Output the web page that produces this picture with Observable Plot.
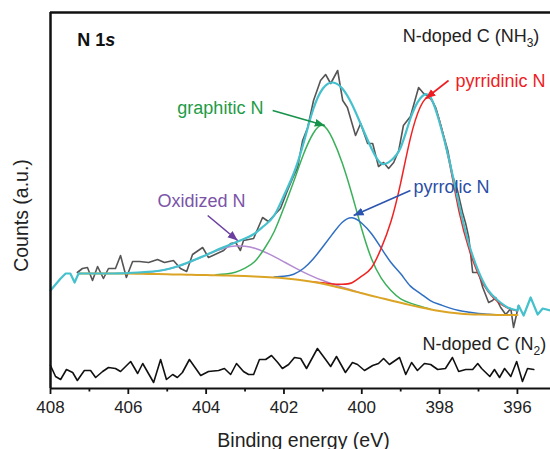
<!DOCTYPE html>
<html><head><meta charset="utf-8">
<script src="https://cdn.jsdelivr.net/npm/d3@7"></script>
<script src="https://cdn.jsdelivr.net/npm/@observablehq/plot@0.6"></script>
<style>body{margin:0;background:#fff}</style>
</head><body><div id="chart"></div>
<script>
// ---------- data (binding energy in eV, counts in arbitrary units) ----------
const majorTicks = [408, 406, 404, 402, 400, 398, 396];
const minorTicks = [407, 405, 403, 401, 399, 397];

// common energy grid for fitted curves
const gridE = [407.25, 407, 406.75, 406.5, 406.25, 406, 405.75, 405.5, 405.25, 405, 404.75, 404.5, 404.25, 404, 403.75, 403.5, 403.25, 403, 402.75, 402.5, 402.25, 402, 401.75, 401.5, 401.25, 401, 400.75, 400.5, 400.25, 400, 399.75, 399.5, 399.25, 399, 398.75, 398.5, 398.25, 398, 397.75, 397.5, 397.25, 397, 396.75, 396.5, 396.25, 396];
const baselineC = [115, 115, 115, 115, 115, 115, 114.8, 114.6, 114.4, 114.2, 114, 113.8, 113.6, 113.4, 113.2, 113, 112.7, 112.4, 112, 111.5, 111, 110.3, 109.3, 108, 106.5, 104.7, 102.6, 100.3, 97.8, 95.3, 92.8, 90.4, 88, 85.7, 83.4, 81.2, 79.2, 77.5, 76.1, 75, 74.3, 73.9, 73.7, 73.6, 73.5, 73.5];
const oxidizedC = [null, null, null, null, null, 115.2, 115.7, 116.2, 117.4, 119.2, 121.7, 125.1, 129.1, 133.4, 137.5, 140.7, 142.4, 142.2, 140.2, 136.5, 131.9, 126.7, 121.4, 116.4, 111.9, 108, 104.5, 101.3, 98.3, 95.3, null, null, null, null, null, null, null, null, null, null, null, null, null, null, null, null];
const graphiticC = [null, null, null, null, null, null, null, null, null, null, null, null, null, null, 113.7, 114.5, 116.2, 120.4, 127, 140, 157, 181, 207, 234, 255, 263, 249.6, 225.3, 193.8, 159.3, 129.8, 110.4, 98, 89.7, 85.4, 82.2, 79.5, null, null, null, null, null, null, null, null, null];
const pyrrolicC = [null, null, null, null, null, null, null, null, null, null, null, null, null, null, null, null, null, null, null, null, 111.5, 112.3, 114.3, 120, 129.5, 141.7, 154.6, 166.3, 170.8, 165.3, 154.8, 140.4, 126, 114.7, 102.4, 95.2, 88.2, 84, 80.6, 78, 76.3, 74.9, 74.2, 73.6, null, null];
const pyridinicC = [null, null, null, null, null, null, null, null, null, null, null, null, null, null, null, null, null, null, null, null, null, null, null, null, 106.5, 105.7, 104.6, 104.3, 105.8, 112.3, 120.8, 140.4, 167, 205.7, 250.4, 281.2, 290.2, 267.5, 226.1, 177, 140.3, 113.9, 96.7, 86.6, 80.5, 77.5];
const envelopeC = [115, 115, 115, 115, 115.2, 115.5, 116, 116.6, 117.5, 119.3, 122, 125.5, 129.5, 133.5, 138, 142, 146, 150, 155, 163, 173, 193, 215, 245, 279, 300, 306, 300, 284, 262, 240, 225, 228, 241, 270, 290, 292, 266, 228, 184, 145, 117, 98, 88, 81, 78];

// envelope edges (noisy, follow raw counts)
const envLeftE = [408, 407.74, 407.61, 407.49, 407.38, 407.28, 407.25];
const envLeftC = [98, 110, 115, 115, 106, 115, 115];
const envRightE = [396, 395.97, 395.84, 395.66, 395.48, 395.35, 395.15];
const envRightC = [78, 83, 73, 91, 74, 80, 78];

// raw N 1s spectrum, N-doped C (NH3)
const nh3E = [407.31, 407.18, 407.05, 406.92, 406.79, 406.64, 406.51, 406.33, 406.20, 406.05, 405.89, 405.71, 405.48, 405.25, 405.07, 404.84, 404.66, 404.50, 404.35, 404.09, 403.94, 403.55, 403.37, 403.24, 403.12, 403.04, 402.78, 402.55, 402.40, 402.09, 401.91, 401.78, 401.65, 401.52, 401.39, 401.24, 401.06, 400.93, 400.80, 400.62, 400.49, 400.37, 400.16, 400.03, 399.85, 399.72, 399.57, 399.44, 399.31, 399.18, 399.05, 398.93, 398.75, 398.54, 398.41, 398.23, 398.10, 397.97, 397.79, 397.67, 397.54, 397.41, 397.33, 397.25, 397.15, 397.00, 396.89, 396.74, 396.64, 396.56, 396.43, 396.30, 396.17, 396.10, 395.97];
const nh3C = [116, 120, 121, 108, 122, 110, 120, 120, 133, 111, 127, 127, 126, 129, 126, 128, 120, 117, 134, 141, 131, 138, 145, 146, 138, 148, 150, 171, 167, 180, 198, 210, 221, 248, 261, 288, 308, 314, 305, 318, 288, 281, 253, 265, 245, 245, 222, 226, 220, 226, 238, 263, 272, 301, 295, 291, 281, 263, 238, 213, 198, 176, 165, 151, 116, 116, 101, 86, 88, 91, 81, 74, 80, 61, 83];

// raw spectrum, N-doped C (N2)
const n2E = [408.00, 407.87, 407.74, 407.59, 407.43, 407.31, 407.13, 406.97, 406.84, 406.66, 406.51, 406.33, 406.20, 405.94, 405.76, 405.63, 405.35, 405.17, 405.02, 404.86, 404.74, 404.61, 404.43, 404.14, 403.94, 403.68, 403.53, 403.37, 403.22, 403.04, 402.91, 402.78, 402.63, 402.47, 402.32, 402.16, 402.04, 401.88, 401.73, 401.57, 401.42, 401.14, 400.93, 400.80, 400.65, 400.42, 400.24, 400.11, 399.93, 399.72, 399.57, 399.44, 399.29, 399.03, 398.87, 398.72, 398.57, 398.39, 398.23, 398.05, 397.85, 397.67, 397.51, 397.33, 397.15, 397.02, 396.92, 396.71, 396.59, 396.46, 396.33, 396.17, 396.02, 395.87, 395.74, 395.58];
const n2C = [23, 12, 9, 19, 16, 8, 18, 18, 11, 17, 21, 20, 17, 27, 15, 25, 6, 29, 9, 14, 11, 16, 29, 13, 17, 18, 20, 14, 25, 17, 14, 14, 29, 29, 33, 26, 20, 24, 31, 30, 20, 40, 29, 22, 32, 16, 26, 24, 18, 23, 25, 30, 24, 31, 14, 26, 18, 25, 24, 19, 20, 31, 17, 19, 19, 25, 20, 12, 19, 11, 20, 12, 27, 7, 20, 19];

// annotations
const labels = [
  {text: "graphitic N", e: 404.74, c: 275, color: "#1e9b46", e1: 402.29, c1: 278, e2: 400.95, c2: 263, arrow: "#16924a"},
  {text: "pyrridinic N", e: 397.59, c: 302, color: "#ee1d24", e1: 397.77, c1: 308, e2: 398.36, c2: 290, arrow: "#ee1d24"},
  {text: "pyrrolic N", e: 398.67, c: 196, color: "#2b4fa6", e1: 398.75, c1: 198, e2: 400.21, c2: 173, arrow: "#2b55b0"},
  {text: "Oxidized N", e: 405.25, c: 182, color: "#7b54a8", e1: 403.96, c1: 173, e2: 403.19, c2: 148, arrow: "#6b3fa0"}
];

// ---------- helpers ----------
const rows = (E, C) => E.map((e, i) => ({e, c: C[i]})).filter(d => d.c != null);
const FONT = "'Liberation Sans', Arial, Helvetica, sans-serif";

function headMarker(color, context) {
  const ns = "http://www.w3.org/2000/svg";
  const doc = (context && context.document) || document;
  const m = doc.createElementNS(ns, "marker");
  m.setAttribute("viewBox", "-10 -5 10 10");
  m.setAttribute("markerWidth", 10);
  m.setAttribute("markerHeight", 10);
  m.setAttribute("markerUnits", "userSpaceOnUse");
  m.setAttribute("orient", "auto");
  m.setAttribute("refX", 0);
  m.setAttribute("refY", 0);
  const p = doc.createElementNS(ns, "path");
  p.setAttribute("d", "M-10,-4L0,0L-10,4Z");
  p.setAttribute("fill", color);
  p.setAttribute("stroke", "none");
  m.appendChild(p);
  return m;
}

function build(useMarker) {
  const arrowMarks = useMarker
    ? [Plot.link(labels, {x1: "e1", y1: "c1", x2: "e2", y2: "c2", stroke: "arrow", strokeWidth: 1.6, markerEnd: headMarker})]
    : [Plot.arrow(labels, {x1: "e1", y1: "c1", x2: "e2", y2: "c2", stroke: "arrow", strokeWidth: 1.6, headLength: 8})];
  return Plot.plot({
    width: 550, height: 449,
    marginLeft: 50, marginRight: 0, marginTop: 12, marginBottom: 61,
    style: {fontFamily: FONT, background: "#fff", overflow: "hidden"},
    x: {domain: [408, 395.15], axis: null},
    y: {domain: [0, 376], axis: null},
    color: {type: "identity"},
    marks: [
      Plot.axisX({ticks: minorTicks, tickSize: 3.5, tickFormat: () => "", label: null, strokeWidth: 1.8, stroke: "#111"}),
      Plot.axisX({ticks: majorTicks, tickSize: 6, tickPadding: 6, fontSize: 17, tickFormat: d => String(d), label: null, strokeWidth: 1.8, stroke: "#111", fill: "#222"}),
      Plot.line(rows(n2E, n2C), {x: "e", y: "c", stroke: "#111", strokeWidth: 1.6}),
      Plot.line(rows(nh3E, nh3C), {x: "e", y: "c", stroke: "#555", strokeWidth: 1.6}),
      Plot.line(rows(gridE, oxidizedC), {x: "e", y: "c", stroke: "#b48ad2", strokeWidth: 1.5, curve: "natural"}),
      Plot.line(rows(gridE, graphiticC), {x: "e", y: "c", stroke: "#3bb05a", strokeWidth: 1.5, curve: "natural"}),
      Plot.line(rows(gridE, pyrrolicC), {x: "e", y: "c", stroke: "#2f6fc2", strokeWidth: 1.5, curve: "natural"}),
      Plot.line(rows(gridE, pyridinicC), {x: "e", y: "c", stroke: "#f02323", strokeWidth: 1.5, curve: "natural"}),
      Plot.line(rows(gridE, baselineC), {x: "e", y: "c", stroke: "#dba425", strokeWidth: 2, curve: "natural"}),
      Plot.line(rows(envLeftE, envLeftC), {x: "e", y: "c", stroke: "#45c1cd", strokeWidth: 2.2}),
      Plot.line(rows(gridE, envelopeC), {x: "e", y: "c", stroke: "#45c1cd", strokeWidth: 2.2, curve: "natural"}),
      Plot.line(rows(envRightE, envRightC), {x: "e", y: "c", stroke: "#45c1cd", strokeWidth: 2.2}),
      ...arrowMarks,
      Plot.text(labels, {x: "e", y: "c", text: "text", fill: "color", fontSize: 18, textAnchor: "start", lineAnchor: "bottom"}),
      Plot.text(["N 1s"], {x: [407.31], y: [343], fontSize: 18, fontWeight: "bold", textAnchor: "start", lineAnchor: "bottom", fill: "#111"}),
      Plot.text(["N-doped C (NH3)"], {x: [398.95], y: [347], fontSize: 18, textAnchor: "start", lineAnchor: "bottom", fill: "#222"}),
      Plot.text(["N-doped C (N2)"], {x: [398.44], y: [39], fontSize: 18, textAnchor: "start", lineAnchor: "bottom", fill: "#222"}),
      Plot.ruleX([408], {stroke: "#111", strokeWidth: 2.5}),
      Plot.ruleY([376], {stroke: "#111", strokeWidth: 2.5}),
      Plot.ruleY([0], {stroke: "#111", strokeWidth: 2.2}),
      Plot.text(["Binding energy (eV)"], {frameAnchor: "bottom", dx: 3, dy: 58, lineAnchor: "bottom", fontSize: 19.5, fill: "#222"}),
      Plot.text(["Counts (a.u.)"], {frameAnchor: "left", rotate: -90, dx: -23, dy: 15, textAnchor: "middle", lineAnchor: "bottom", fontSize: 19.5, fill: "#222"})
    ]
  });
}

let svg;
try { svg = build(true); } catch (e) { svg = build(false); }
document.getElementById("chart").appendChild(svg);

// subscripts and italics
const NS = "http://www.w3.org/2000/svg";
function rebuild(el, parts) {
  el.textContent = "";
  for (const p of parts) {
    const t = document.createElementNS(NS, "tspan");
    t.textContent = p.t;
    if (p.dy) t.setAttribute("dy", p.dy);
    if (p.size) t.setAttribute("font-size", p.size);
    if (p.style) t.setAttribute("font-style", p.style);
    el.appendChild(t);
  }
}
d3.select(svg).selectAll("text").each(function () {
  const s = this.textContent;
  if (s === "N-doped C (NH3)") rebuild(this, [{t: "N-doped C (NH"}, {t: "3", dy: 5, size: 12}, {t: ")", dy: -5}]);
  else if (s === "N-doped C (N2)") rebuild(this, [{t: "N-doped C (N"}, {t: "2", dy: 5, size: 12}, {t: ")", dy: -5}]);
  else if (s === "N 1s") rebuild(this, [{t: "N 1"}, {t: "s", style: "italic"}]);
});
</script></body></html>
